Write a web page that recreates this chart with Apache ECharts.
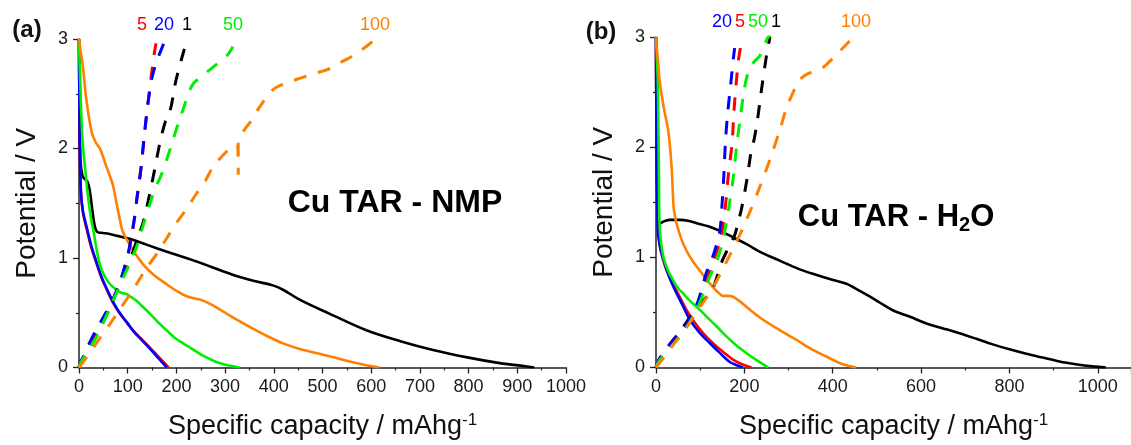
<!DOCTYPE html>
<html>
<head>
<meta charset="utf-8">
<script src="https://cdn.jsdelivr.net/npm/echarts@6/dist/echarts.min.js"></script>
<style>html,body{margin:0;padding:0;background:#fff}#c{width:1131px;height:445px}</style>
</head>
<body>
<div id="c"></div>
<script>
// ---------- Panel (a): Cu TAR - NMP ----------  [capacity mAh/g, potential V]
const aDis1 = [[0,3],[1,2.4],[3,1.9],[7,1.75],[12,1.72],[17,1.7],[22,1.62],[27,1.45],[32,1.3],[37,1.24],[45,1.23],[63,1.22],[80,1.2],[100,1.18],[140,1.12],[179,1.06],[240,0.97],[314,0.85],[360,0.79],[398,0.75],[419,0.71],[453,0.62],[515,0.49],[590,0.34],[660,0.24],[727,0.16],[800,0.09],[864,0.04],[910,0.015],[935,0]];
const aDis5 = [[0,3],[1,2.3],[2,1.9],[4,1.6],[8,1.42],[17,1.24],[25,1.1],[36,0.95],[46,0.82],[57,0.71],[70,0.59],[84,0.49],[98,0.41],[111,0.34],[128,0.26],[146,0.18],[165,0.09],[184,0]];
const aDis20 = [[0,3],[1,2.3],[2,1.9],[4,1.6],[8,1.43],[17,1.26],[26,1.1],[37,0.95],[47,0.82],[58,0.71],[71,0.59],[85,0.49],[99,0.41],[112,0.33],[129,0.25],[146,0.17],[164,0.08],[180,0]];
const aDis50 = [[0,3],[1,2.8],[2,2.7],[4,2.4],[7,2.1],[10,1.93],[13,1.8],[18,1.58],[24,1.38],[30,1.24],[36,1.08],[43,0.94],[52,0.84],[64,0.76],[77,0.71],[88,0.68],[98,0.67],[108,0.64],[118,0.61],[132,0.55],[146,0.49],[163,0.41],[180,0.34],[197,0.27],[214,0.22],[232,0.17],[248,0.125],[265,0.085],[282,0.05],[305,0.02],[330,0]];
const aDis100 = [[0,3],[3,2.9],[8,2.75],[15,2.45],[26,2.15],[35,2.05],[43,2.0],[55,1.85],[70,1.66],[77,1.5],[84,1.35],[90,1.24],[110,1.08],[132,0.94],[155,0.84],[180,0.76],[200,0.7],[221,0.65],[248,0.62],[265,0.59],[282,0.55],[315,0.46],[351,0.37],[385,0.29],[419,0.22],[453,0.17],[490,0.13],[521,0.095],[560,0.05],[590,0.02],[617,0]];
const aChg1 = [[0,0],[10,0.08],[36,0.3],[64,0.55],[80,0.72],[97,0.9],[111,1.06],[122,1.2],[132,1.33],[142,1.52],[155,1.8],[161,1.94],[167,2.07],[173,2.18],[178,2.25],[184,2.28],[186,2.33],[190,2.4],[197,2.58],[204,2.71],[212,2.84],[217,2.92]];
const aChg5 = [[0,0],[2,0.03],[10,0.1],[20,0.2],[36,0.34],[50,0.45],[64,0.56],[75,0.67],[84,0.77],[93,0.9],[101,1.03],[108,1.2],[114,1.36],[119,1.54],[124,1.7],[128,1.84],[134,2.11],[141,2.39],[148,2.65],[153,2.82],[158,2.96]];
const aChg20 = [[0,0],[2,0.04],[10,0.11],[20,0.21],[36,0.35],[50,0.46],[64,0.57],[75,0.68],[84,0.78],[93,0.91],[101,1.04],[108,1.21],[114,1.37],[119,1.55],[124,1.71],[128,1.85],[134,2.12],[141,2.39],[149,2.63],[157,2.76],[165,2.86],[175,2.97]];
const aChg50 = [[0,0],[2,0.03],[15,0.13],[36,0.28],[50,0.41],[64,0.55],[78,0.69],[91,0.82],[105,0.96],[118,1.1],[132,1.3],[146,1.5],[158,1.65],[170,1.77],[180,1.9],[189,2.02],[198,2.15],[207,2.27],[217,2.4],[226,2.52],[236,2.6],[250,2.65],[263,2.7],[283,2.77],[304,2.85],[316,2.93]];
const aChg100 = [[0,0],[16,0.095],[40,0.25],[64,0.4],[85,0.54],[105,0.67],[122,0.79],[139,0.91],[160,1.04],[180,1.18],[200,1.32],[221,1.45],[240,1.58],[260,1.71],[276,1.84],[296,1.94],[314,2.02],[325,2.04],[327,1.76],[327,2.05],[341,2.18],[355,2.26],[371,2.38],[399,2.54],[433,2.61],[453,2.64],[488,2.69],[515,2.73],[535,2.78],[560,2.84],[580,2.9],[595,2.95],[609,3.0]];

// ---------- Panel (b): Cu TAR - H2O ----------
const bDis1 = [[0,3],[1,2.2],[3,1.6],[6,1.35],[9,1.31],[20,1.33],[32,1.34],[54,1.34],[75,1.33],[92,1.31],[120,1.28],[145,1.24],[175,1.18],[205,1.12],[240,1.04],[280,0.97],[320,0.9],[355,0.85],[395,0.8],[431,0.76],[450,0.72],[468,0.68],[490,0.63],[506,0.59],[536,0.52],[575,0.46],[612,0.4],[650,0.355],[687,0.31],[725,0.26],[762,0.21],[800,0.165],[838,0.125],[875,0.09],[913,0.055],[950,0.03],[988,0.01],[1018,0]];
const bDis5 = [[0,3],[1,2.2],[2,1.7],[3,1.45],[5,1.28],[9,1.1],[16,0.98],[24,0.88],[38,0.76],[54,0.64],[68,0.53],[84,0.43],[105,0.32],[129,0.22],[152,0.14],[175,0.07],[195,0.03],[216,0]];
const bDis20 = [[0,3],[1,2.2],[2,1.7],[3,1.45],[4,1.24],[10,1.08],[20,0.94],[32,0.8],[47,0.67],[62,0.55],[77,0.43],[100,0.31],[122,0.22],[145,0.13],[167,0.05],[183,0.02],[197,0]];
const bDis50 = [[0,3],[2,2.8],[4,2.6],[6,2.0],[7,1.55],[8,1.3],[11,1.15],[17,1.0],[27,0.88],[39,0.79],[50,0.72],[62,0.67],[73,0.62],[84,0.58],[100,0.52],[115,0.46],[138,0.37],[160,0.28],[182,0.2],[205,0.13],[230,0.06],[254,0]];
const bDis100 = [[0,3],[4,2.8],[9,2.58],[18,2.35],[28,2.14],[35,1.84],[38,1.6],[40,1.45],[44,1.35],[47,1.3],[57,1.17],[69,1.06],[84,0.96],[99,0.88],[114,0.8],[129,0.73],[141,0.68],[152,0.65],[163,0.65],[175,0.64],[190,0.6],[205,0.55],[240,0.44],[280,0.34],[318,0.25],[355,0.16],[385,0.1],[416,0.04],[435,0.015],[453,0]];
const bChg1 = [[0,0],[7,0.07],[30,0.2],[60,0.36],[88,0.52],[110,0.62],[129,0.72],[148,0.95],[163,1.08],[178,1.2],[186,1.32],[194,1.45],[206,1.71],[216,1.98],[221,2.05],[229,2.23],[238,2.5],[247,2.75],[252,2.88],[258,3.0]];
const bChg5 = [[0,0],[7,0.07],[20,0.15],[39,0.25],[58,0.33],[72,0.4],[86,0.49],[97,0.6],[106,0.7],[118,0.84],[133,1.0],[145,1.15],[152,1.3],[158,1.5],[164,1.76],[172,2.03],[176,2.3],[181,2.56],[187,2.8],[191,2.9]];
const bChg20 = [[0,0],[7,0.075],[20,0.15],[39,0.25],[58,0.33],[70,0.4],[84,0.49],[95,0.6],[103,0.7],[113,0.85],[128,1.0],[138,1.13],[145,1.25],[150,1.51],[154,1.78],[157,2.04],[162,2.3],[169,2.57],[175,2.8],[178,2.9]];
const bChg50 = [[0,0],[7,0.06],[30,0.17],[54,0.28],[70,0.37],[84,0.46],[96,0.56],[107,0.67],[118,0.79],[130,0.9],[138,0.97],[148,1.1],[155,1.22],[166,1.48],[175,1.73],[183,2.03],[191,2.27],[200,2.53],[210,2.7],[221,2.77],[235,2.83],[246,2.93],[251,2.98],[258,3.02]];
const bChg100 = [[0,0],[16,0.08],[47,0.25],[70,0.37],[88,0.48],[115,0.64],[135,0.77],[152,0.9],[167,1.02],[182,1.14],[197,1.27],[211,1.4],[235,1.64],[258,1.89],[279,2.14],[294,2.34],[305,2.45],[318,2.56],[330,2.63],[345,2.67],[363,2.69],[380,2.73],[401,2.81],[423,2.9],[440,2.97],[450,3.0]];

// tick values / labels
const aXTicks = {min: 0, max: 1000, interval: 100};
const bXTicks = {min: 0, max: 1075, interval: 200};
const yTicks = {min: 0, max: 3, interval: 1};

const C = {k: '#000000', r: '#ff0000', b: '#0000ff', g: '#00ee00', o: '#ff8000'};
const FONT = '"Liberation Sans", Arial, sans-serif';

function solid(data, color, idx) {
  return {type: 'line', data, xAxisIndex: idx, yAxisIndex: idx, symbol: 'none', smooth: 0.35,
    lineStyle: {color, width: 2.6}, z: 2};
}
function dashed(data, color, idx) {
  return {type: 'line', data, xAxisIndex: idx, yAxisIndex: idx, symbol: 'none', smooth: 0.3,
    lineStyle: {color, width: 3, type: [13, 12]}, z: 3};
}

const axisCommon = {
  axisLine: {show: true, onZero: false, lineStyle: {color: '#222', width: 1.5}},
  axisTick: {show: true, inside: false, length: 6, lineStyle: {color: '#222', width: 1.3}},
  minorTick: {show: true, splitNumber: 2, length: 3, lineStyle: {color: '#222', width: 1.2}},
  splitLine: {show: false},
  axisLabel: {color: '#1a1a1a', fontSize: 18, fontFamily: FONT, formatter: v => String(v)}
};

const xName = '{a|Specific capacity / mAhg}{s|-1}';
const xNameStyle = {rich: {
  a: {fontSize: 27, fontFamily: FONT, color: '#111', lineHeight: 30},
  s: {fontSize: 17, fontFamily: FONT, color: '#111', lineHeight: 16, verticalAlign: 'top'}
}};

function xAxis(idx, t) {
  return Object.assign({}, axisCommon, {
    type: 'value', gridIndex: idx, min: t.min, max: t.max, interval: t.interval,
    name: xName, nameLocation: 'middle', nameGap: 44, nameTextStyle: xNameStyle,
    axisLabel: Object.assign({}, axisCommon.axisLabel, {margin: 11, showMaxLabel: idx === 0})
  });
}
function yAxis(idx) {
  return Object.assign({}, axisCommon, {
    type: 'value', gridIndex: idx, min: yTicks.min, max: yTicks.max, interval: yTicks.interval,
    name: 'Potential / V', nameLocation: 'middle', nameGap: 38,
    nameTextStyle: {fontSize: 28, fontFamily: FONT, color: '#111'},
    axisLabel: Object.assign({}, axisCommon.axisLabel, {margin: 11})
  });
}

function label(text, x, y, color, size, bold) {
  return {type: 'text', x, y, z: 10, style: {text, fill: color, font: (bold ? 'bold ' : '') + size + 'px ' + FONT,
    textAlign: 'center', textVerticalAlign: 'middle'}};
}

const chart = echarts.init(document.getElementById('c'), null, {renderer: 'canvas'});
chart.setOption({
  animation: false,
  backgroundColor: '#fff',
  grid: [
    {left: 79, top: 39, width: 487, height: 331.5},
    {left: 656, top: 37, width: 475.7, height: 334.5}
  ],
  xAxis: [xAxis(0, aXTicks), xAxis(1, bXTicks)],
  yAxis: [yAxis(0), yAxis(1)],
  series: [
    solid(aDis1, C.k, 0), solid(aDis5, C.r, 0), solid(aDis20, C.b, 0), solid(aDis50, C.g, 0), solid(aDis100, C.o, 0),
    dashed(aChg1, C.k, 0), dashed(aChg5, C.r, 0), dashed(aChg20, C.b, 0), dashed(aChg50, C.g, 0), dashed(aChg100, C.o, 0),
    solid(bDis1, C.k, 1), solid(bDis5, C.r, 1), solid(bDis20, C.b, 1), solid(bDis50, C.g, 1), solid(bDis100, C.o, 1),
    dashed(bChg1, C.k, 1), dashed(bChg5, C.r, 1), dashed(bChg20, C.b, 1), dashed(bChg50, C.g, 1), dashed(bChg100, C.o, 1)
  ],
  graphic: [
    label('(a)', 27, 30, '#111', 24, true),
    label('(b)', 601, 32, '#111', 24, true),
    label('5', 142, 25, C.r, 18), label('20', 164, 25, C.b, 18), label('1', 187, 25, C.k, 18),
    label('50', 233, 25, C.g, 18), label('100', 375, 25, C.o, 18),
    label('20', 722, 22, C.b, 18), label('5', 740, 22, C.r, 18), label('50', 758, 22, C.g, 18),
    label('1', 776, 22, C.k, 18), label('100', 856, 22, C.o, 18),
    label('Cu TAR - NMP', 395, 203, '#000', 32, true),
    {type: 'text', x: 896, y: 217, z: 10, style: {
      text: '{b|Cu TAR - H}{sub|2}{b|O}', textAlign: 'center', textVerticalAlign: 'middle',
      rich: {
        b: {font: 'bold 31px ' + FONT, fill: '#000', lineHeight: 36},
        sub: {font: 'bold 20px ' + FONT, fill: '#000', lineHeight: 20, verticalAlign: 'bottom'}
      }}}
  ]
});
</script>
</body>
</html>
